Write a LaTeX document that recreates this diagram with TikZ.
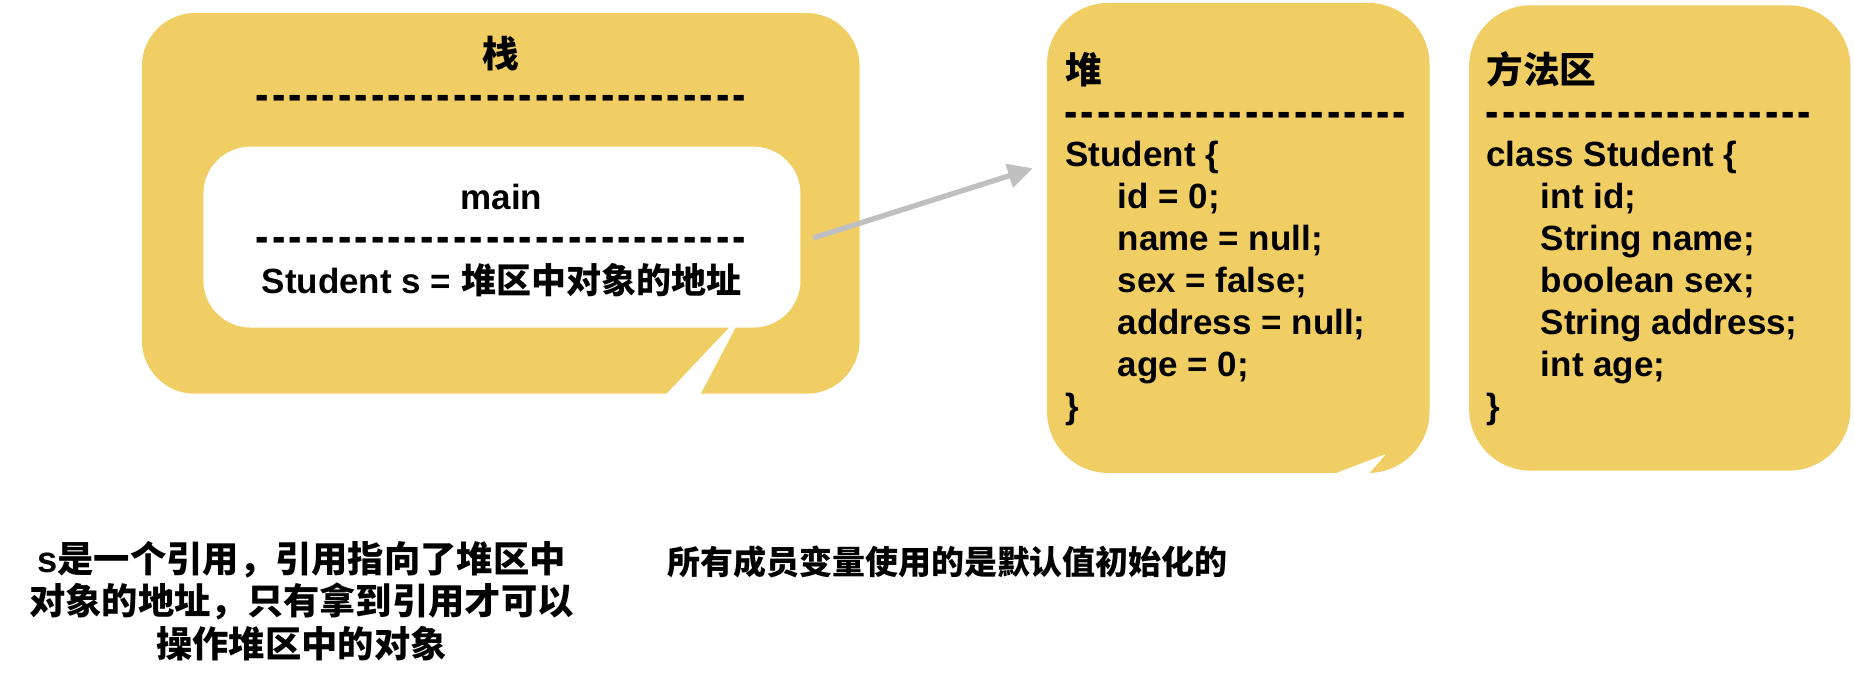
\documentclass[tikz,border=0pt]{standalone}
\usepackage{fontspec}
\usepackage{graphicx}
\setmainfont{Liberation Sans}
\newfontfamily\cjk{Noto Sans CJK SC}
\usetikzlibrary{arrows.meta}
\definecolor{boxyellow}{RGB}{240,206,99}
\definecolor{arrowgray}{RGB}{191,191,191}
\newcommand\dashrow[1]{\foreach \k in {1,...,#1}{\makebox[13.9pt]{\scalebox{1.15}[1.35]{-}}}}
\begin{document}
\begin{tikzpicture}[x=1pt,y=1pt,
  ybox/.style={fill=boxyellow},
  wbox/.style={fill=white},
  lat/.style={inner sep=0pt, anchor=base west, font=\bfseries\fontsize{29.6}{36}\selectfont},
  latc/.style={inner sep=0pt, anchor=base, font=\bfseries\fontsize{29.6}{36}\selectfont},
  headc/.style={inner sep=0pt, anchor=base, font=\cjk\bfseries\fontsize{31}{36}\selectfont},
  headw/.style={inner sep=0pt, anchor=base west, font=\cjk\bfseries\fontsize{31}{36}\selectfont},
  dashtxt/.style={inner sep=0pt, anchor=base west, font=\bfseries\fontsize{29.6}{36}\selectfont},
  note/.style={inner sep=0pt, anchor=base, font=\cjk\bfseries\fontsize{30.7}{36}\selectfont},
  note2/.style={inner sep=0pt, anchor=base west, font=\cjk\bfseries\fontsize{27.9}{36}\selectfont},
  link/.style={draw=arrowgray, line width=4.5pt, -{Triangle[length=21pt,width=20pt]}}
]
\fill[white] (0,0) rectangle (1568,-586.9);
\useasboundingbox (0,0) rectangle (1568,-586.9);

% ---------- stack ----------
\fill[ybox, rounded corners=45pt] (120,-11) rectangle (727,-333);
\fill[wbox, rounded corners=40pt] (172,-124) rectangle (677,-277);
\fill[white] (561,-336) -- (591,-336) -- (629,-264) -- cycle;

\node[headc] (stackTitle) at (423.5,-57) {栈};
\node[dashtxt] (stackDash1) at (215,-93.5) {\dashrow{30}};
\node[latc] (mainTitle) at (424,-177) {main};
\node[dashtxt] (stackDash2) at (215,-213.3) {\dashrow{30}};
\node[latc] (mainVar) at (424,-248) {Student s = {\cjk 堆区中对象的地址}};

% ---------- heap ----------
\fill[ybox, rounded corners=52pt] (885.5,-2.5) rectangle (1209,-400);
\fill[white] (1126.5,-401.5) -- (1172,-384) -- (1157,-401.5) -- cycle;

\node[headw] (heapTitle) at (901,-71) {堆};
\node[dashtxt] (heapDash) at (898.6,-108.1) {\dashrow{21}};
\node[lat] (heapL0) at (901,-141) {Student \{};
\node[lat] (heapL1) at (945,-176.5) {id = 0;};
\node[lat] (heapL2) at (945,-212) {name = null;};
\node[lat] (heapL3) at (945,-247.5) {sex = false;};
\node[lat] (heapL4) at (945,-283) {address = null;};
\node[lat] (heapL5) at (945,-318.5) {age = 0;};
\node[lat] (heapL6) at (901,-354) {\}};

% ---------- method area ----------
\fill[ybox, rounded corners=52pt] (1242.5,-4.5) rectangle (1565,-398);

\node[headw] (methTitle) at (1257,-71) {方法区};
\node[dashtxt] (methDash) at (1255,-108.1) {\dashrow{20}};
\node[lat] (methL0) at (1257,-141) {class Student \{};
\node[lat] (methL1) at (1303,-176.5) {int id;};
\node[lat] (methL2) at (1303,-212) {String name;};
\node[lat] (methL3) at (1303,-247.5) {boolean sex;};
\node[lat] (methL4) at (1303,-283) {String address;};
\node[lat] (methL5) at (1303,-318.5) {int age;};
\node[lat] (methL6) at (1257,-354) {\}};

% ---------- reference arrow ----------
\coordinate (arrS) at (687.6,-201.3);
\coordinate (arrE) at (873.5,-142.3);
\draw[link] (arrS) -- (arrE);

% ---------- notes ----------
\node[note] (noteA1) at (255,-484) {{\fontspec{Liberation Sans}s}是一个引用，引用指向了堆区中};
\node[note] (noteA2) at (255,-520) {对象的地址，只有拿到引用才可以};
\node[note] (noteA3) at (255,-556) {操作堆区中的对象};
\node[note2] (noteB) at (564,-485.5) {所有成员变量使用的是默认值初始化的};
\end{tikzpicture}
\end{document}
